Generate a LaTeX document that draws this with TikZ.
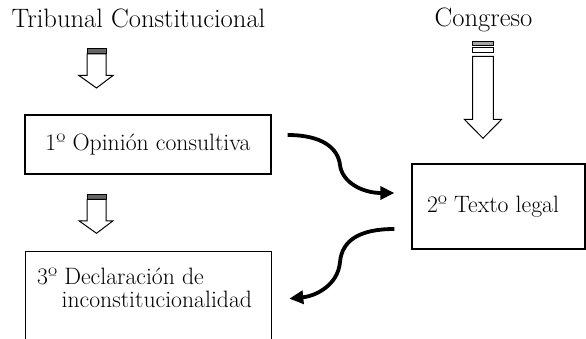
\documentclass[tikz,border=0pt]{standalone}
\usetikzlibrary{arrows.meta}
\begin{document}
\begin{tikzpicture}[x=1pt,y=-1pt,
  boxstyle/.style={draw, line width=1.3pt, rectangle, inner sep=0pt},
  txt/.style={font=\fontsize{23.7}{22.4}\selectfont},
  titletxt/.style={font=\fontsize{26.6}{28}\selectfont, anchor=base, inner sep=0pt},
  blk/.style={draw, line width=1pt, fill=white, line join=miter},
  darkband/.style={draw, line width=1pt, fill=black!60},
  lightband/.style={draw, line width=1pt, fill=black!35},
  whiteband/.style={draw, line width=1pt, fill=white},
  curve/.style={line width=3.8pt, -{Triangle[length=14pt,width=13pt]}},
  tcarrow/.pic={
    \draw[darkband] (-9.5,0) rectangle (9.5,5);
    \draw[blk] (-9.5,5) -- (-9.5,26.5) -- (-17.5,26.5) -- (0,39) -- (16.5,26.5) -- (9.5,26.5) -- (9.5,5) -- cycle;
  }]
\useasboundingbox (0,0) rectangle (586,339);

% titles
\node[titletxt] (tc) at (138.5,27.3) {Tribunal Constitucional};
\node[titletxt] (cg) at (483.5,26.7) {Congreso};

% boxes
\node[boxstyle, txt, minimum width=246pt, minimum height=59pt] (b1) at (148,144.5) {1º Opinión consultiva};
\node[boxstyle, txt, minimum width=173pt, minimum height=85pt] (b2) at (498.5,206.5) {2º Texto legal\hspace*{11pt}};
\node[boxstyle, minimum width=246pt, minimum height=100pt, anchor=north west] (b3) at (25,251) {};
\node[txt, align=left, inner sep=0pt, anchor=north west] (t3) at (37,268) {3º Declaración de\\\hspace*{24.5pt}inconstitucionalidad};

% block arrows
\pic at (96.5,49) {tcarrow};
\pic at (96.5,194.3) {tcarrow};
\draw[lightband] (472.7,42) rectangle (493.3,45.3);
\draw[whiteband] (472.7,48) rectangle (493.3,53);
\draw[blk] (472.7,56.3) -- (472.7,119.3) -- (464.3,119.3) -- (483,138.3) -- (501.7,119.3) -- (493.3,119.3) -- (493.3,56.3) -- cycle;

% curved arrows
\draw[curve] ([shift={(16,-9.5)}]b1.east) .. controls (322,135) and (338,148) .. (340,165) .. controls (342,182) and (362,193) .. ([shift={(-17,-13.5)}]b2.west);
\draw[curve] ([shift={(-17,22.5)}]b2.west) .. controls (360,229) and (342,240) .. (340,262) .. controls (338,285) and (316,296) .. ([shift={(17,-3)}]b3.east);
\end{tikzpicture}
\end{document}
